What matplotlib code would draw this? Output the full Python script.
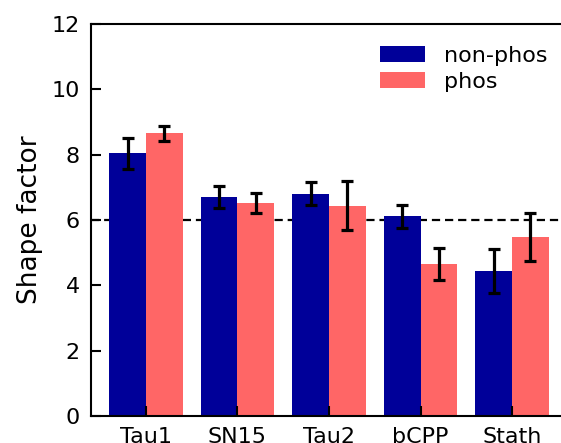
import numpy as np
import matplotlib
matplotlib.use("Agg")
import matplotlib.pyplot as plt

# shape factor per construct, mean and error
constructs = ["Tau1", "SN15", "Tau2", "bCPP", "Stath"]
nonphos_mean = [8.04, 6.70, 6.80, 6.12, 4.44]
nonphos_err = [0.47, 0.33, 0.35, 0.35, 0.68]
phos_mean = [8.66, 6.52, 6.43, 4.65, 5.48]
phos_err = [0.23, 0.32, 0.75, 0.50, 0.73]
reference_level = 6.0

fig = plt.figure(figsize=(5.61, 4.43), dpi=100)
ax = fig.add_axes([91 / 561, 27 / 443, 476 / 561, 392 / 443])

x = np.arange(len(constructs))
w = 0.4
err_style = dict(ecolor="black", elinewidth=2.3, capsize=4, capthick=2.3)
ax.axhline(reference_level, color="black", linestyle="--", linewidth=1.6,
           dashes=(3.7, 2.2), zorder=0)
ax.bar(x - w / 2, nonphos_mean, w, yerr=nonphos_err, color="#000099",
       label="non-phos", error_kw=err_style)
ax.bar(x + w / 2, phos_mean, w, yerr=phos_err, color="#ff6666",
       label="phos", error_kw=err_style)

ax.set_xlim(-0.6, 4.6)
ax.set_ylim(0, 12)
ax.set_yticks([0, 2, 4, 6, 8, 10, 12])
ax.set_xticks(x)
ax.set_xticklabels(constructs)
ax.tick_params(direction="in", length=7, width=1.5, labelsize=16, pad=8)
for s in ax.spines.values():
    s.set_linewidth(1.5)
ax.spines["right"].set_visible(False)
ax.set_ylabel("Shape factor", fontsize=19, labelpad=6)

ax.legend(loc="upper right", bbox_to_anchor=(1.002, 0.995), frameon=False,
          fontsize=16, handlelength=2.03, handleheight=0.72,
          handletextpad=0.86, labelspacing=0.28)

fig.savefig("out.png", dpi=100)
